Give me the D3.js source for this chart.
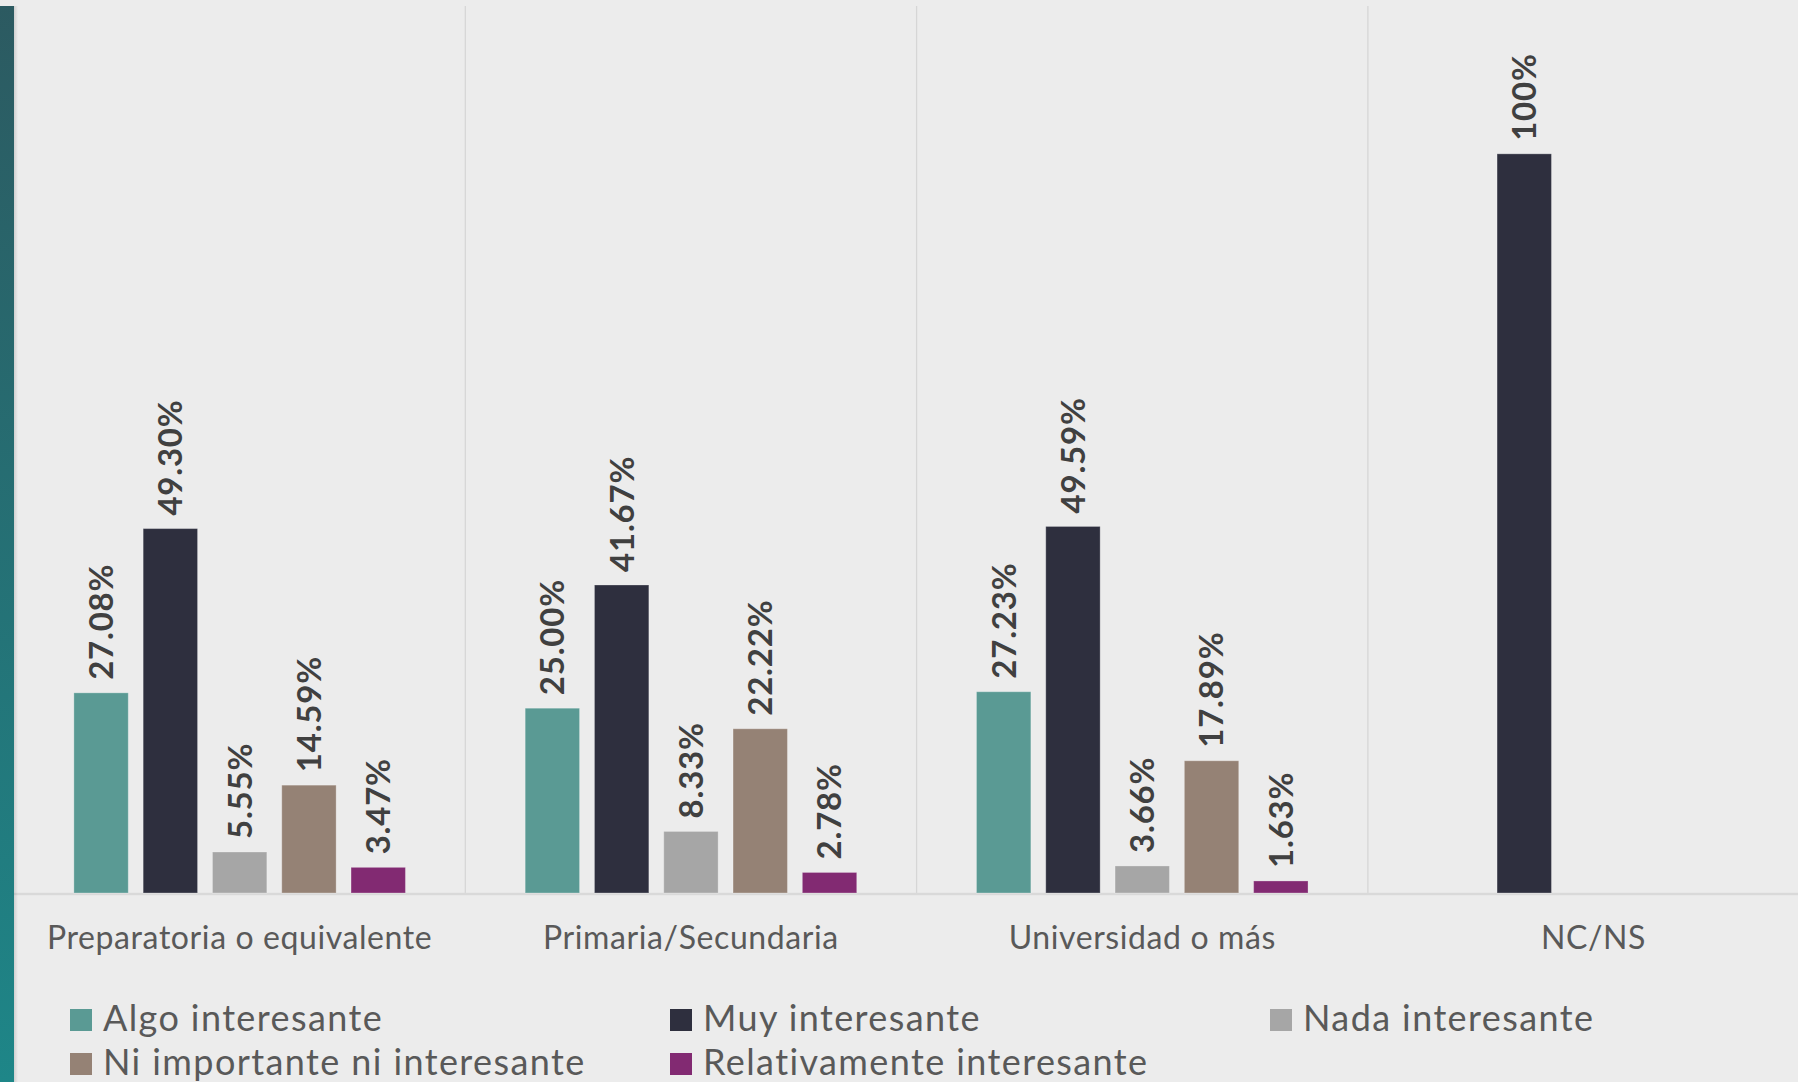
<!DOCTYPE html>
<html>
<head>
<meta charset="utf-8">
<script src="https://cdn.jsdelivr.net/npm/d3@7"></script>
<style>
  html, body { margin: 0; padding: 0; background: #ececec; }
  svg { display: block; }
</style>
</head>
<body>
<svg id="chart" width="1798" height="1082"></svg>
<script>
// Education level groups
const categories = ["Preparatoria o equivalente", "Primaria/Secundaria", "Universidad o más", "NC/NS"];
// Answer series
const series = ["Algo interesante", "Muy interesante", "Nada interesante", "Ni importante ni interesante", "Relativamente interesante"];
const seriesColors = ["#5a9a94", "#2e2f3e", "#a6a6a6", "#958275", "#822a72"];
// Percentages per series, one value per category (null = no bar)
const algoInteresante = [27.08, 25.00, 27.23, null];
const muyInteresante = [49.30, 41.67, 49.59, 100];
const nadaInteresante = [5.55, 8.33, 3.66, null];
const niImportante = [14.59, 22.22, 17.89, null];
const relativamente = [3.47, 2.78, 1.63, null];
const seriesValues = [algoInteresante, muyInteresante, nadaInteresante, niImportante, relativamente];
const yDomain = [0, 120];

const W = 1798, H = 1082;
const plot = { left: 14, top: 6, bottom: 893 };
const groupWidth = 451.3;
const FONT = "Lato, 'Open Sans', sans-serif";

const svg = d3.select("#chart");

// background
svg.append("rect").attr("width", W).attr("height", H).attr("fill", "#ececec");

// accent strip on the left edge
const defs = svg.append("defs");
const grad = defs.append("linearGradient").attr("id", "strip").attr("x1", 0).attr("y1", 0).attr("x2", 0).attr("y2", 1);
grad.append("stop").attr("offset", "0%").attr("stop-color", "#2c5a61");
grad.append("stop").attr("offset", "100%").attr("stop-color", "#1e8688");
const shade = defs.append("linearGradient").attr("id", "shade").attr("x1", 0).attr("y1", 0).attr("x2", 1).attr("y2", 0);
shade.append("stop").attr("offset", "0%").attr("stop-color", "#000").attr("stop-opacity", 0.12);
shade.append("stop").attr("offset", "100%").attr("stop-color", "#000").attr("stop-opacity", 0);

const x0 = d3.scaleBand()
  .domain(categories)
  .range([plot.left, plot.left + groupWidth * categories.length]);

const x1 = d3.scaleBand()
  .domain(series)
  .range([0, groupWidth])
  .paddingInner(0.215)
  .paddingOuter(0.864);

const y = d3.scaleLinear().domain(yDomain).range([plot.bottom, plot.top]);

// vertical separators between groups
svg.append("g")
  .selectAll("line")
  .data(categories.slice(1))
  .join("line")
  .attr("x1", d => x0(d)).attr("x2", d => x0(d))
  .attr("y1", plot.top).attr("y2", plot.bottom)
  .attr("stroke", "#d6d6d6").attr("stroke-width", 1.3);

// category axis
const xAxis = svg.append("g")
  .attr("transform", `translate(0,${plot.bottom})`)
  .call(d3.axisBottom(x0).tickSize(0).tickPadding(0));
xAxis.select(".domain").attr("stroke", "#d9d9d9").attr("stroke-width", 2.5)
  .attr("d", `M${plot.left},1H${W}`);
xAxis.selectAll("text")
  .attr("y", 56)
  .attr("dy", 0)
  .attr("fill", "#595959")
  .style("font-family", FONT)
  .style("font-size", "32px")
  .style("letter-spacing", "0.6px");

// bars
const rows = [];
categories.forEach((c, ci) => {
  series.forEach((s, si) => {
    const v = seriesValues[si][ci];
    if (v != null) rows.push({ category: c, series: s, si, value: v });
  });
});

const fmt = v => (v === 100 ? "100" : d3.format(".2f")(v)) + "%";

const bars = svg.append("g");
bars.selectAll("rect")
  .data(rows)
  .join("rect")
  .attr("x", d => x0(d.category) + x1(d.series))
  .attr("width", x1.bandwidth())
  .attr("y", d => y(d.value))
  .attr("height", d => y(0) - y(d.value))
  .attr("fill", d => seriesColors[d.si])
  .attr("stroke", "rgba(255,255,255,0.28)")
  .attr("stroke-width", 1);

// value labels, rotated
bars.selectAll("text")
  .data(rows)
  .join("text")
  .attr("transform", d => {
    const cx = x0(d.category) + x1(d.series) + x1.bandwidth() / 2;
    return `translate(${cx},${y(d.value) - 13}) rotate(-90)`;
  })
  .attr("dy", "0.36em")
  .attr("text-anchor", "start")
  .attr("fill", "#404040")
  .style("font-family", FONT)
  .style("font-weight", "bold")
  .style("font-size", "33px")
  .style("letter-spacing", "0.8px")
  .text(d => fmt(d.value));

// left accent strip drawn over the plot edge
svg.append("rect").attr("x", 0).attr("y", 6).attr("width", 14).attr("height", H - 6).attr("fill", "url(#strip)");
svg.append("rect").attr("x", 14).attr("y", 6).attr("width", 4).attr("height", H - 6).attr("fill", "url(#shade)");

// legend
const legendCols = [70, 670, 1270];
const legendRows = [1031, 1075];
const legend = svg.append("g")
  .selectAll("g")
  .data(series)
  .join("g")
  .attr("transform", (d, i) => `translate(${legendCols[i % 3]},${legendRows[Math.floor(i / 3)]})`);
legend.append("rect")
  .attr("x", 0).attr("y", -22).attr("width", 22).attr("height", 22)
  .attr("fill", (d, i) => seriesColors[i]);
legend.append("text")
  .attr("x", 33).attr("y", 0)
  .attr("fill", "#595959")
  .style("font-family", FONT)
  .style("font-size", "36px")
  .style("letter-spacing", "1.4px")
  .text(d => d);
</script>
</body>
</html>
